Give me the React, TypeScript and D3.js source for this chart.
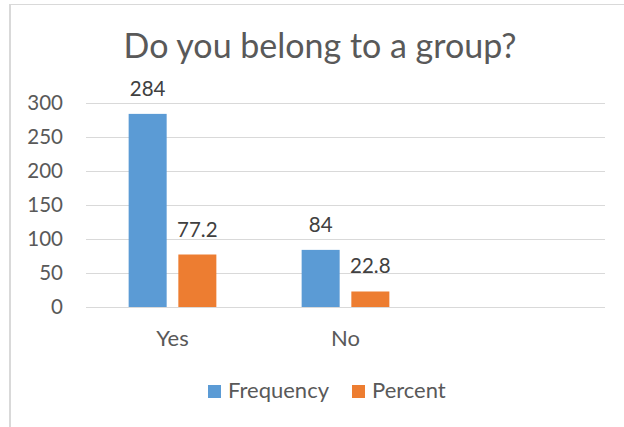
import React from "react";
import * as d3 from "d3";

const categories = ["Yes", "No", ""];
const seriesNames = ["Frequency", "Percent"];
const frequency = [284, 84, null];
const percent = [77.2, 22.8, null];
const yTicks = [0, 50, 100, 150, 200, 250, 300];
const colors = ["#5B9BD5", "#ED7D31"];

const W = 624;
const H = 427;
const FONT = "Lato, 'Open Sans', sans-serif";
const TEXT = "#595959";

export default function App() {
  const x0 = d3
    .scaleBand<string>()
    .domain(categories)
    .range([86, 605])
    .paddingInner(0.493)
    .paddingOuter(0.2465);
  const x1 = d3
    .scaleBand<string>()
    .domain(seriesNames)
    .range([0, x0.bandwidth()])
    .paddingInner(0.235);
  const y = d3.scaleLinear().domain([0, 300]).range([307, 103]);
  const values = [frequency, percent];

  return (
    <svg
      width={W}
      height={H}
      style={{ position: "absolute", left: 0, top: 0, background: "#fff" }}
      fontFamily={FONT}
    >
      <rect x={0} y={0} width={W} height={H} fill="#fff" />
      <line x1={10} x2={10} y1={4} y2={427} stroke="#D9D9D9" strokeWidth={2} />
      <line x1={10} x2={624} y1={4.5} y2={4.5} stroke="#D9D9D9" strokeWidth={1} />
      <text x={320} y={58} textAnchor="middle" fontSize={34} fill={TEXT}>
        Do you belong to a group?
      </text>
      {yTicks.map((t) => (
        <g key={t}>
          <line
            x1={86}
            x2={605}
            y1={Math.round(y(t)) + 0.5}
            y2={Math.round(y(t)) + 0.5}
            stroke="#D9D9D9"
            strokeWidth={1.2}
          />
          <text
            x={63}
            y={y(t)}
            dy="0.35em"
            textAnchor="end"
            fontSize={20.5}
            fill={TEXT}
          >
            {t}
          </text>
        </g>
      ))}
      {categories.map((c, ci) =>
        seriesNames.map((s, si) => {
          const v = values[si][ci];
          if (v == null) return null;
          const bx = (x0(c) as number) + (x1(s) as number);
          const bw = x1.bandwidth();
          return (
            <g key={c + s}>
              <rect
                x={bx}
                y={y(v)}
                width={bw}
                height={y(0) - y(v)}
                fill={colors[si]}
              />
              <text
                x={bx + bw / 2}
                y={y(v) - 18}
                textAnchor="middle"
                fontSize={20.5}
                fill="#404040"
              >
                {v}
              </text>
            </g>
          );
        })
      )}
      {categories.map((c) => (
        <text
          key={"xl" + c}
          x={(x0(c) as number) + x0.bandwidth() / 2}
          y={346}
          textAnchor="middle"
          fontSize={22}
          fill={TEXT}
        >
          {c}
        </text>
      ))}
      <g>
        <rect x={208} y={385} width={13} height={13} fill={colors[0]} />
        <text x={228} y={398} fontSize={22} fill={TEXT}>
          {seriesNames[0]}
        </text>
        <rect x={352} y={385} width={13} height={13} fill={colors[1]} />
        <text x={372} y={398} fontSize={22} fill={TEXT}>
          {seriesNames[1]}
        </text>
      </g>
    </svg>
  );
}
